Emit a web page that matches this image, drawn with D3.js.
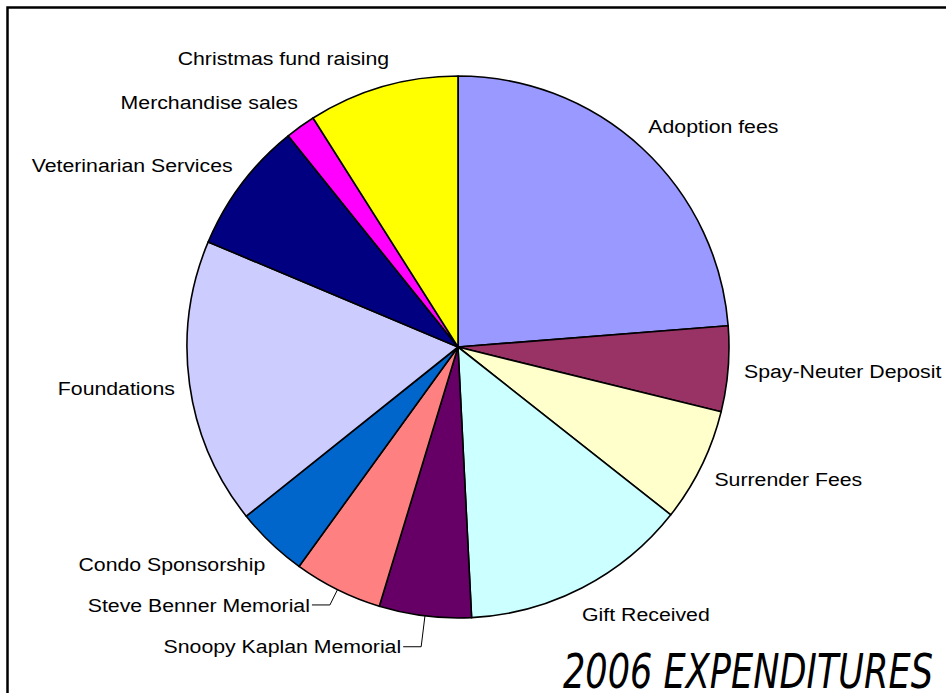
<!DOCTYPE html>
<html>
<head>
	<meta charset="utf-8">
	<title>2006 Expenditures</title>
	<style>
		body { margin: 0; background: #fff; }
		svg { display: block; }
		.lbl { font-family: "Liberation Sans", Arial, sans-serif; font-size: 19px; fill: #000; }
	</style>
</head>
<body>
	<svg id="container" width="946" height="693">
		<rect id="frame"></rect>
		<g id="pie"></g>
		<g id="labels"></g>
		<text id="title"></text>
	</svg>
<script src="https://cdn.jsdelivr.net/npm/d3@7"></script>
<script>
	// categories, clockwise from 12 o'clock
	let categories = ["Adoption fees", "Spay-Neuter Deposit", "Surrender Fees", "Gift Received",
		"Snoopy Kaplan Memorial", "Steve Benner Memorial", "Condo Sponsorship", "Foundations",
		"Veterinarian Services", "Merchandise sales", "Christmas fund raising"]
	// share of total (%)
	let values = [23.8, 5.1, 6.8, 13.6, 5.5, 5.3, 4.3, 17.1, 7.9, 1.8, 9.0]
	let colors = ["#9999ff", "#993366", "#ffffcc", "#ccffff", "#660066", "#ff8080",
		"#0066cc", "#ccccff", "#000080", "#ff00ff", "#ffff00"]
	// slices whose label hangs off a leader line
	let leaderLabels = ["Snoopy Kaplan Memorial", "Steve Benner Memorial"]
	let titleText = "2006 EXPENDITURES"

	let data = categories.map((c, i) => ({name: c, value: values[i], color: colors[i]}))

	let cx = 458, cy = 347, r = 271
	let stretch = 1.12 // labels in the original are drawn a bit wide

	d3.select("#frame")
		.attr("x", 7.5).attr("y", 7.5)
		.attr("width", 1000).attr("height", 800)
		.style("fill", "none").style("stroke", "#000").style("stroke-width", 2.5)

	let pie = d3.pie().sort(null).value(d => d.value)
	let arcs = pie(data)
	let arc = d3.arc().innerRadius(0).outerRadius(r)

	let body = d3.select("#pie").attr("transform", `translate(${cx},${cy})`)
	body.selectAll("path")
		.data(arcs)
		.enter()
		.append("path")
		.attr("d", arc)
		.style("fill", d => d.data.color)
		.style("stroke", "#000")
		.style("stroke-width", 1.6)
		.style("stroke-linejoin", "round")

	// point at angle a (clockwise from north) and radius rr
	function at(a, rr) { return [Math.sin(a) * rr, -Math.cos(a) * rr] }

	let labels = d3.select("#labels").attr("transform", `translate(${cx},${cy})`)

	function addLabel(x, y, anchor, txt) {
		labels.append("g")
			.attr("transform", `translate(${x},${y}) scale(${stretch},1)`)
			.append("text").attr("class", "lbl")
			.attr("dy", "0.35em")
			.attr("text-anchor", anchor)
			.text(txt)
	}

	arcs.forEach(d => {
		let mid = (d.startAngle + d.endAngle) / 2
		let right = Math.sin(mid) > 0
		if (leaderLabels.includes(d.data.name)) {
			let gap = d.data.name.startsWith("Snoopy") ? 31 : 17
			let p0 = at(mid, r)
			let p1 = at(mid, r + gap)
			let p2 = [p1[0] - 18, p1[1]]
			labels.append("path")
				.attr("d", d3.line()([p0, p1, p2]))
				.style("fill", "none").style("stroke", "#000").style("stroke-width", 1)
			addLabel(p2[0] - 2, p2[1], "end", d.data.name)
		} else {
			let p = at(mid, r + 30)
			addLabel(p[0] + (right ? -14 : 15), p[1], right ? "start" : "end", d.data.name)
		}
	})

	// title sits on the bottom edge, as in the original
	d3.select("#title")
		.attr("x", 933).attr("y", 688)
		.attr("text-anchor", "end")
		.attr("textLength", 370)
		.attr("lengthAdjust", "spacingAndGlyphs")
		.style("font-family", "'DejaVu Sans', sans-serif")
		.style("font-style", "italic")
		.style("font-size", "48px")
		.text(titleText)
</script>
</body>
</html>
